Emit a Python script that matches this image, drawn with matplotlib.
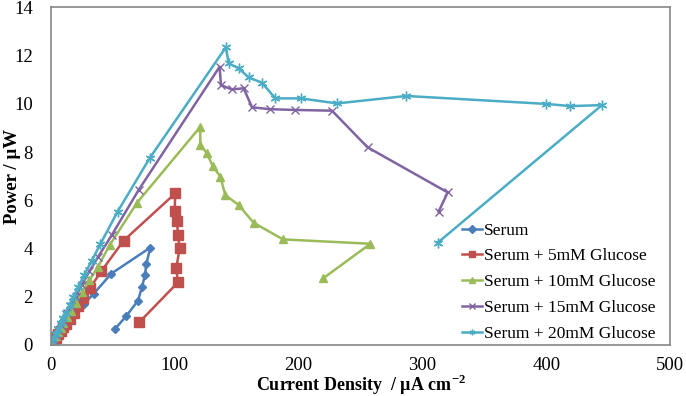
import matplotlib
matplotlib.use("Agg")
import matplotlib.pyplot as plt

plt.rcParams['font.family'] = ['Liberation Serif', 'DejaVu Serif']
plt.rcParams['mathtext.fontset'] = 'custom'
plt.rcParams['mathtext.rm'] = 'Liberation Serif'
plt.rcParams['mathtext.bf'] = 'Liberation Serif:bold'

labels = ["Serum", "Serum + 5mM Glucose", "Serum + 10mM Glucose",
          "Serum + 15mM Glucose", "Serum + 20mM Glucose"]
colors = ["#4A7EBB", "#C0504D", "#9BBB59", "#8064A2", "#4BACC6"]

serum_x = [0, 2, 4, 6, 8, 10, 12, 14.2, 17, 19.6, 26.3, 34.4, 48.7, 80.2,
           77, 75.9, 73.5, 70.3, 60.8, 52]
serum_y = [0, 0.13, 0.26, 0.39, 0.52, 0.65, 0.8, 1.0, 1.15, 1.31, 1.69, 2.12, 2.96, 4.04,
           3.35, 2.9, 2.4, 1.84, 1.2, 0.68]

g5_x = [0, 2, 4, 6, 8, 10, 12, 15, 18.3, 21.8, 25.5, 31.7, 40.8, 58.7, 100.4,
        99.9, 101.8, 102.6, 103.9, 101.2, 102.6, 71.3]
g5_y = [0, 0.15, 0.3, 0.45, 0.6, 0.74, 0.88, 1.08, 1.31, 1.6, 1.94, 2.38, 3.07, 4.33, 6.29,
        5.56, 5.14, 4.56, 4.01, 3.18, 2.6, 0.94]

g10_x = [0, 2, 4, 6, 8, 10, 13, 16, 20, 25, 31, 38, 47.5, 69.5, 120.6,
         120.6, 126, 130.5, 136.8, 140.8, 151.5, 163.7, 187.4, 258, 220]
g10_y = [0, 0.18, 0.36, 0.54, 0.72, 0.9, 1.16, 1.42, 1.76, 2.18, 2.68, 3.25, 4.15, 5.9, 9.05,
         8.3, 7.95, 7.44, 6.98, 6.22, 5.81, 5.07, 4.38, 4.2, 2.77]

g15_x = [0, 2, 4, 6, 8, 10, 13, 16, 20, 25, 31, 38, 49, 70.8, 136.2,
         137.3, 146.2, 155.6, 162.4, 177.1, 197.3, 227, 255.7, 320.4, 313.1]
g15_y = [0, 0.2, 0.41, 0.62, 0.82, 1.02, 1.32, 1.62, 2.0, 2.5, 3.05, 3.65, 4.55, 6.43, 11.54,
         10.78, 10.6, 10.65, 9.86, 9.78, 9.75, 9.72, 8.2, 6.33, 5.53]

g20_x = [0, 2, 4, 6, 8, 10, 12, 15, 18, 22, 27, 33, 40, 53.8, 79.6, 141.3,
         143.5, 151.6, 159.6, 170.4, 181.2, 201.9, 231, 287, 400, 419.5, 445, 312.3]
g20_y = [0, 0.23, 0.46, 0.68, 0.9, 1.12, 1.33, 1.65, 1.98, 2.4, 2.92, 3.5, 4.2, 5.53, 7.74, 12.35,
         11.68, 11.48, 11.1, 10.88, 10.23, 10.23, 10.02, 10.33, 10.0, 9.91, 9.95, 4.24]

xs = [serum_x, g5_x, g10_x, g15_x, g20_x]
ys = [serum_y, g5_y, g10_y, g15_y, g20_y]
markers = ["D", "s", "^", "x", (6, 2, 0)]
msizes = [4, 6.5, 6, 6, 7]

fig = plt.figure(figsize=(6.86, 3.96), dpi=100)
ax = fig.add_axes([0.0743, 0.1288, 0.9024, 0.8523])

for x, y, c, m, ms, lab in zip(xs, ys, colors, markers, msizes, labels):
    ax.plot(x, y, color=c, lw=1.8, marker=m, ms=ms, mew=1.0, label=lab,
            solid_joinstyle='round')

ax.set_xlim(0, 500)
ax.set_ylim(0, 14)
ax.set_xticks(range(0, 501, 100))
ax.set_yticks(range(0, 15, 2))
ax.tick_params(length=0, labelsize=13.5)
ax.tick_params(axis='x', pad=9)
ax.tick_params(axis='y', pad=13)
for s in ax.spines.values():
    s.set_color("#868686")
    s.set_linewidth(1.2)

ax.set_xlabel(r"Current Density  / µA cm$^{\mathbf{-2}}$", fontsize=13,
              fontweight='bold', va='center')
ax.xaxis.set_label_coords(0.5, -0.119)
ax.set_ylabel("Power / µW", fontsize=13.5, fontweight='bold', va='center')
ax.yaxis.set_label_coords(-0.062, 0.5)

leg = ax.legend(loc='lower left', bbox_to_anchor=(0.652, -0.012), frameon=False,
                fontsize=12.5, handlelength=1.2, handletextpad=0.1,
                labelspacing=0.56, borderaxespad=0)
for h in leg.legend_handles:
    h.set_markersize(4)

fig.savefig("out.png", dpi=100)
